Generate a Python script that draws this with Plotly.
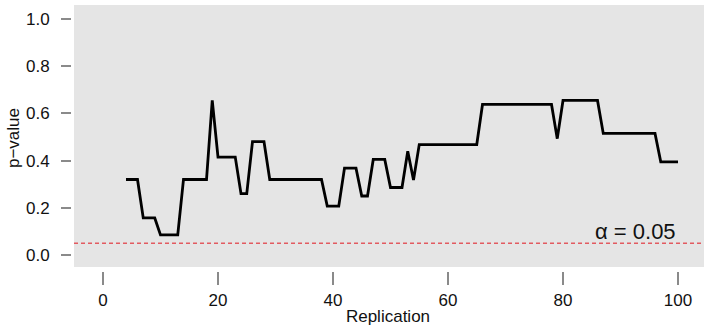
import plotly.graph_objects as go

# Data
replication = list(range(4, 101))
p_values = (
    [0.32, 0.32, 0.32]                 # 4-6
    + [0.157, 0.157, 0.157]            # 7-9
    + [0.085, 0.085, 0.085, 0.085]     # 10-13
    + [0.32] * 5                       # 14-18
    + [0.655]                          # 19
    + [0.415] * 4                      # 20-23
    + [0.26, 0.26]                     # 24-25
    + [0.48, 0.48, 0.48]               # 26-28
    + [0.32] * 10                      # 29-38
    + [0.207] * 3                      # 39-41
    + [0.368] * 3                      # 42-44
    + [0.25, 0.25]                     # 45-46
    + [0.405] * 3                      # 47-49
    + [0.286] * 3                      # 50-52
    + [0.44]                           # 53
    + [0.318]                          # 54
    + [0.468] * 11                     # 55-65
    + [0.638] * 13                     # 66-78
    + [0.493]                          # 79
    + [0.655] * 7                      # 80-86
    + [0.515] * 10                     # 87-96
    + [0.395] * 4                      # 97-100
)
ALPHA = 0.05
x_ticks = [0, 20, 40, 60, 80, 100]
y_ticks = [0.0, 0.2, 0.4, 0.6, 0.8, 1.0]
y_tick_text = ["0.0", "0.2", "0.4", "0.6", "0.8", "1.0"]

# panel extents (data units)
px0, px1 = -5.04, 104.52
py0, py1 = -0.051, 1.0593

fig = go.Figure()
fig.add_trace(go.Scatter(
    x=[px0, px1], y=[ALPHA, ALPHA], mode="lines",
    line=dict(color="rgb(226,90,96)", width=1.6, dash="4px,3px"),
    hoverinfo="skip", showlegend=False,
))
fig.add_trace(go.Scatter(
    x=replication, y=p_values, mode="lines",
    line=dict(color="black", width=2.8),
    showlegend=False,
))
fig.add_shape(type="rect", xref="x", yref="y", x0=px0, x1=px1, y0=py0, y1=py1,
              fillcolor="#E5E5E5", line=dict(width=0), layer="below")
fig.add_annotation(x=100, y=ALPHA, xref="x", yref="y", text="α = 0.05",
                   showarrow=False, xanchor="right", yanchor="bottom",
                   yshift=-3, font=dict(size=22, color="#111", family="Liberation Sans, Arial"))

font = dict(family="Liberation Sans, Arial, sans-serif", size=17, color="#111")
fig.update_layout(
    width=704, height=327,
    margin=dict(l=72, r=0, t=5, b=56),
    paper_bgcolor="white", plot_bgcolor="white",
    font=font,
    xaxis=dict(range=[-5.39, 104.52], tickvals=x_ticks, ticks="outside", ticklen=13,
               tickwidth=2, tickcolor="#8a8a8a", showgrid=False, zeroline=False,
               showline=False, title=dict(text="Replication", standoff=0, font=dict(size=17)),
               ticklabelstandoff=1, tickfont=dict(size=17)),
    yaxis=dict(range=[-0.0678, 1.0593], tickvals=y_ticks, ticktext=y_tick_text,
               ticks="outside", ticklen=10, tickwidth=2, tickcolor="#8a8a8a",
               showgrid=False, zeroline=False, showline=False,
               title=dict(text="p−value", standoff=2, font=dict(size=17)),
               ticklabelstandoff=8, tickfont=dict(size=17)),
)
fig.write_html("out.html")
